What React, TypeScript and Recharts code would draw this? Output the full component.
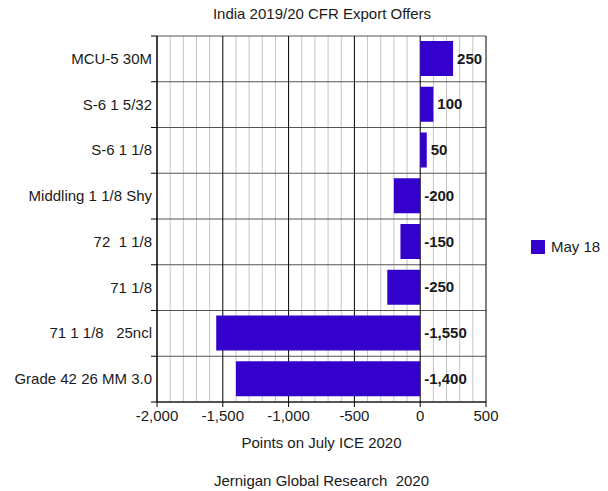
import React from 'react';
import { BarChart, Bar, XAxis, YAxis, CartesianGrid, LabelList } from 'recharts';

const categories = [
  'MCU-5 30M',
  'S-6 1 5/32',
  'S-6 1 1/8',
  'Middling 1 1/8 Shy',
  '72  1 1/8',
  '71 1/8',
  '71 1 1/8   25ncl',
  'Grade 42 26 MM 3.0',
];
const may18 = [250, 100, 50, -200, -150, -250, -1550, -1400];
const xDomain = [-2000, 500];
const majorTicks = [-2000, -1500, -1000, -500, 0, 500];
const minorTicks = [
  -1900, -1800, -1700, -1600, -1400, -1300, -1200, -1100, -900, -800, -700, -600,
  -400, -300, -200, -100, 100, 200, 300, 400,
];

const data = categories.map((name, i) => ({ name, may18: may18[i] }));

const FONT = '"Liberation Sans", Arial, sans-serif';
const TEXT = '#1a1a1a';
const FS = 15;

// category label plus the little tick marks on band edges
const CatTick = (props: any) => {
  const { x, y, payload, index } = props;
  const half = payload.offset || 0;
  const ax = x + 4;
  return (
    <g>
      <line x1={ax - 6} x2={ax} y1={y - half} y2={y - half} stroke="#000" />
      {index === categories.length - 1 && <line x1={ax - 6} x2={ax} y1={y + half} y2={y + half} stroke="#000" />}
      <text x={x - 1} y={y} dy={5} textAnchor="end" fontSize={FS} fill={TEXT} fontFamily={FONT} style={{ whiteSpace: 'pre' }}>
        {payload.value}
      </text>
    </g>
  );
};

const ValueLabel = (props: any) => {
  const { x, y, width, height, value } = props;
  const right = Math.max(x, x + width);
  return (
    <text x={right + 4} y={y + height / 2} dy={5} fontSize={FS} fontWeight="bold" fill={TEXT} fontFamily={FONT}>
      {Number(value).toLocaleString('en-US')}
    </text>
  );
};

const minorLines = ({ xAxis, offset }: any) =>
  minorTicks.map((v) =>
    xAxis && typeof xAxis.scale === 'function'
      ? xAxis.scale(v)
      : offset.left + ((v - xDomain[0]) / (xDomain[1] - xDomain[0])) * offset.width
  );

const App: React.FC = () => {
  return (
    <div style={{ position: 'absolute', left: 0, top: 0, width: 608, height: 491, background: '#fff' }}>
      <div style={{ position: 'absolute', left: 0, width: 644, top: 5, textAlign: 'center', fontFamily: FONT, fontSize: FS, color: TEXT }}>
        India 2019/20 CFR Export Offers
      </div>
      <BarChart
        width={608}
        height={491}
        data={data}
        layout="vertical"
        margin={{ top: 36, right: 122, bottom: 46, left: 0 }}
        barSize={35}
      >
        <CartesianGrid stroke="#c4c4c4" horizontal={false} verticalCoordinatesGenerator={minorLines} />
        <CartesianGrid
          stroke="#555"
          vertical={false}
          horizontalCoordinatesGenerator={({ offset }: any) =>
            categories.map((_, i) => offset.top + (i * offset.height) / categories.length).concat([offset.top + offset.height])
          }
        />
        <CartesianGrid stroke="#000" horizontal={false} />
        <XAxis
          type="number"
          domain={xDomain}
          ticks={majorTicks}
          tickFormatter={(v: number) => v.toLocaleString('en-US')}
          axisLine={{ stroke: '#000' }}
          tickLine={{ stroke: '#000' }}
          tickSize={5}
          tickMargin={3}
          tick={{ fontSize: FS, fill: TEXT, fontFamily: FONT }}
          height={43}
          interval={0}
        />
        <YAxis
          type="category"
          dataKey="name"
          width={157}
          axisLine={{ stroke: '#000' }}
          tickLine={false}
          tickSize={4}
          tickMargin={0}
          tick={<CatTick />}
          interval={0}
        />
        <Bar dataKey="may18" name="May 18" fill="#3300cc" isAnimationActive={false}>
          <LabelList dataKey="may18" content={<ValueLabel />} />
        </Bar>
      </BarChart>
      <div style={{ position: 'absolute', left: 531, top: 238, display: 'flex', alignItems: 'center', fontFamily: FONT, fontSize: FS, color: TEXT }}>
        <span style={{ width: 14, height: 14, background: '#3300cc', display: 'inline-block', marginRight: 6 }} />
        May 18
      </div>
      <div style={{ position: 'absolute', left: 157, width: 329, top: 434, textAlign: 'center', fontFamily: FONT, fontSize: FS, color: TEXT }}>
        Points on July ICE 2020
      </div>
      <div style={{ position: 'absolute', left: 157, width: 329, top: 472, textAlign: 'center', fontFamily: FONT, fontSize: FS, color: TEXT }}>
        Jernigan Global Research&nbsp;&nbsp;2020
      </div>
    </div>
  );
};

export default App;
